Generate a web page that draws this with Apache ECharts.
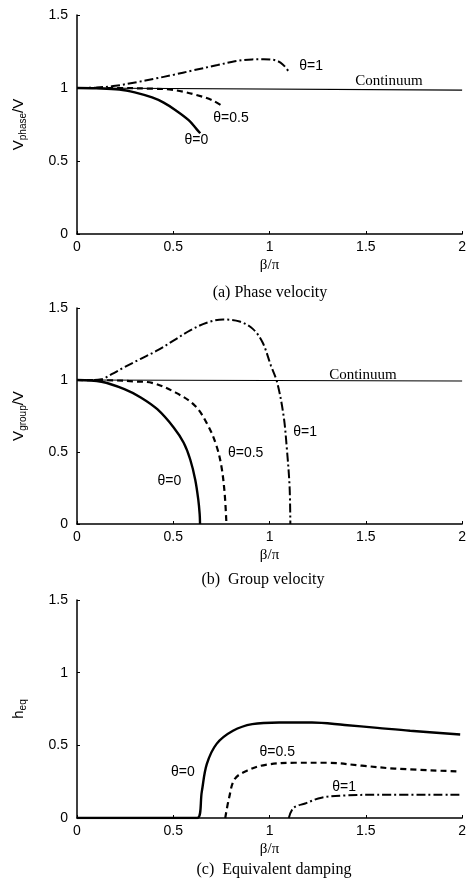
<!DOCTYPE html>
<html>
<head>
<meta charset="utf-8">
<title>Phase velocity, group velocity, equivalent damping</title>
<script src="https://cdn.jsdelivr.net/npm/echarts@6/dist/echarts.min.js"></script>
<style>html,body{margin:0;padding:0;background:#fff}#main{width:469px;height:883px}</style>
</head>
<body>
<div id="main"></div>
<script>
// x values are beta/pi
// (a) phase velocity Vphase/V
var phaseTheta0 = [[0,1],[0.1,0.998],[0.22,0.99],[0.3,0.97],[0.39,0.935],[0.45,0.9],[0.51,0.85],[0.58,0.78],[0.62,0.72],[0.64,0.69]];
var phaseTheta05 = [[0,1],[0.2,1.0],[0.4,0.995],[0.48,0.99],[0.55,0.975],[0.62,0.952],[0.7,0.918],[0.76,0.872]];
var phaseTheta1 = [[0,1],[0.1,1.003],[0.2,1.015],[0.31,1.04],[0.4,1.063],[0.5,1.09],[0.6,1.12],[0.73,1.157],[0.82,1.183],[0.91,1.196],[0.97,1.197],[1.03,1.19],[1.07,1.16],[1.1,1.11]];
var phaseContinuum = [[0,1],[2,0.985]];

// (b) group velocity Vgroup/V
var groupTheta0 = [[0,1],[0.127,0.988],[0.246,0.937],[0.331,0.879],[0.417,0.797],[0.503,0.669],[0.554,0.564],[0.588,0.448],[0.614,0.308],[0.63,0.168],[0.637,0.07],[0.639,0]];
var groupTheta05 = [[0,1],[0.2,0.997],[0.3,0.99],[0.39,0.98],[0.51,0.914],[0.614,0.82],[0.682,0.68],[0.725,0.54],[0.75,0.40],[0.767,0.21],[0.776,0]];
var groupTheta1 = [[0,1],[0.07,1.0],[0.127,1.005],[0.18,1.04],[0.246,1.089],[0.331,1.147],[0.417,1.205],[0.503,1.275],[0.588,1.345],[0.674,1.398],[0.759,1.42],[0.845,1.406],[0.913,1.355],[0.964,1.26],[1.007,1.10],[1.04,0.98],[1.073,0.75],[1.09,0.52],[1.104,0.26],[1.108,0]];
var groupContinuum = [[0,1],[2,0.993]];

// (c) equivalent damping h_eq
var dampTheta0 = [[0,0],[0.625,0],[0.648,0.18],[0.674,0.37],[0.725,0.51],[0.81,0.60],[0.91,0.646],[1.05,0.657],[1.22,0.657],[1.39,0.64],[1.56,0.62],[1.73,0.60],[1.99,0.575]];
var dampTheta05 = [[0.77,0],[0.79,0.14],[0.82,0.27],[0.89,0.33],[0.98,0.366],[1.13,0.38],[1.30,0.38],[1.48,0.36],[1.65,0.34],[1.99,0.32]];
var dampTheta1 = [[1.10,0],[1.125,0.07],[1.185,0.10],[1.27,0.14],[1.39,0.155],[1.56,0.16],[1.99,0.16]];

// curve labels [x, y, text]
var labelsA = [[1.216,1.15,'θ=1'],[0.80,0.795,'θ=0.5'],[0.62,0.64,'θ=0']];
var labelsB = [[1.185,0.64,'θ=1'],[0.876,0.49,'θ=0.5'],[0.48,0.30,'θ=0']];
var labelsC = [[0.55,0.315,'θ=0'],[1.04,0.45,'θ=0.5'],[1.387,0.21,'θ=1']];
var continuumA = [[1.62,1.045,'Continuum']];
var continuumB = [[1.485,1.035,'Continuum']];

var xTicks = [0, 0.5, 1, 1.5, 2];
var yTicks = [0, 0.5, 1, 1.5];

var captions = ['(a) Phase velocity', '(b)  Group velocity', '(c)  Equivalent damping'];

var sans = 'Liberation Sans';
var serif = 'Liberation Serif';
var chart = echarts.init(document.getElementById('main'));

function xAxis(i) {
    return {
        type: 'value', gridIndex: i, min: xTicks[0], max: xTicks[xTicks.length - 1], interval: 0.5,
        name: 'β/π', nameLocation: 'middle', nameGap: 24,
        nameTextStyle: { fontFamily: serif, fontSize: 15, color: '#000' },
        axisLine: { lineStyle: { color: '#000', width: 1.5 } },
        axisTick: { inside: true, length: 3, lineStyle: { color: '#000' } },
        axisLabel: { fontFamily: sans, fontSize: 14, color: '#000', margin: 6 },
        splitLine: { show: false }
    };
}
function yAxis(i, name) {
    return {
        type: 'value', gridIndex: i, min: yTicks[0], max: yTicks[yTicks.length - 1], interval: 0.5,
        name: name, nameLocation: 'middle', nameGap: 49, nameRotate: 90,
        nameTextStyle: {
            color: '#000',
            rich: {
                a: { fontFamily: sans, fontSize: 15, color: '#000' },
                s: { fontFamily: sans, fontSize: 10, color: '#000', padding: [9, 0, 0, 0] }
            }
        },
        axisLine: { show: true, lineStyle: { color: '#000', width: 1.5 } },
        axisTick: { show: true, inside: true, length: 3, lineStyle: { color: '#000' } },
        axisLabel: { fontFamily: sans, fontSize: 14, color: '#000', margin: 9 },
        splitLine: { show: false }
    };
}
function curve(i, data, kind) {
    var ls = { color: '#000', width: 2.4, type: 'solid' };
    if (kind === 'dash') { ls.width = 2.2; ls.type = [6, 4]; }
    if (kind === 'dashdot') { ls.width = 2; ls.type = [9, 3, 2, 3]; }
    if (kind === 'thin') { ls.width = 1.2; }
    return {
        type: 'line', xAxisIndex: i, yAxisIndex: i, data: data,
        showSymbol: false, silent: true, smooth: 0.35,
        lineStyle: ls
    };
}
function labels(i, data, font, size) {
    return {
        type: 'scatter', xAxisIndex: i, yAxisIndex: i, data: data, symbolSize: 0, silent: true,
        itemStyle: { opacity: 1 },
        label: {
            show: true, position: 'inside', color: '#000',
            formatter: function (p) { return p.value[2]; },
            fontFamily: font, fontSize: size
        }
    };
}

var gridTops = [15, 308, 600];
var gridHeight = [219, 216, 218];

chart.setOption({
    animation: false,
    backgroundColor: '#fff',
    grid: gridTops.map(function (t, i) {
        return { left: 77, width: 388, top: t, height: gridHeight[i] };
    }),
    xAxis: [xAxis(0), xAxis(1), xAxis(2)],
    yAxis: [
        yAxis(0, '{a|V}{s|phase}{a|/V}'),
        yAxis(1, '{a|V}{s|group}{a|/V}'),
        yAxis(2, '{a|h}{s|eq}')
    ],
    series: [
        curve(0, phaseContinuum, 'thin'),
        curve(0, phaseTheta0, 'solid'),
        curve(0, phaseTheta05, 'dash'),
        curve(0, phaseTheta1, 'dashdot'),
        labels(0, labelsA, sans, 14),
        labels(0, continuumA, serif, 15),
        curve(1, groupContinuum, 'thin'),
        curve(1, groupTheta0, 'solid'),
        curve(1, groupTheta05, 'dash'),
        curve(1, groupTheta1, 'dashdot'),
        labels(1, labelsB, sans, 14),
        labels(1, continuumB, serif, 15),
        curve(2, dampTheta0, 'solid'),
        curve(2, dampTheta05, 'dash'),
        curve(2, dampTheta1, 'dashdot'),
        labels(2, labelsC, sans, 14)
    ],
    graphic: [
        { type: 'text', x: 270, y: 293, style: { text: captions[0], font: '16px "Liberation Serif"', fill: '#000', align: 'center', verticalAlign: 'middle' } },
        { type: 'text', x: 263, y: 580, style: { text: captions[1], font: '16px "Liberation Serif"', fill: '#000', align: 'center', verticalAlign: 'middle' } },
        { type: 'text', x: 274, y: 870, style: { text: captions[2], font: '16px "Liberation Serif"', fill: '#000', align: 'center', verticalAlign: 'middle' } }
    ]
});
</script>
</body>
</html>
